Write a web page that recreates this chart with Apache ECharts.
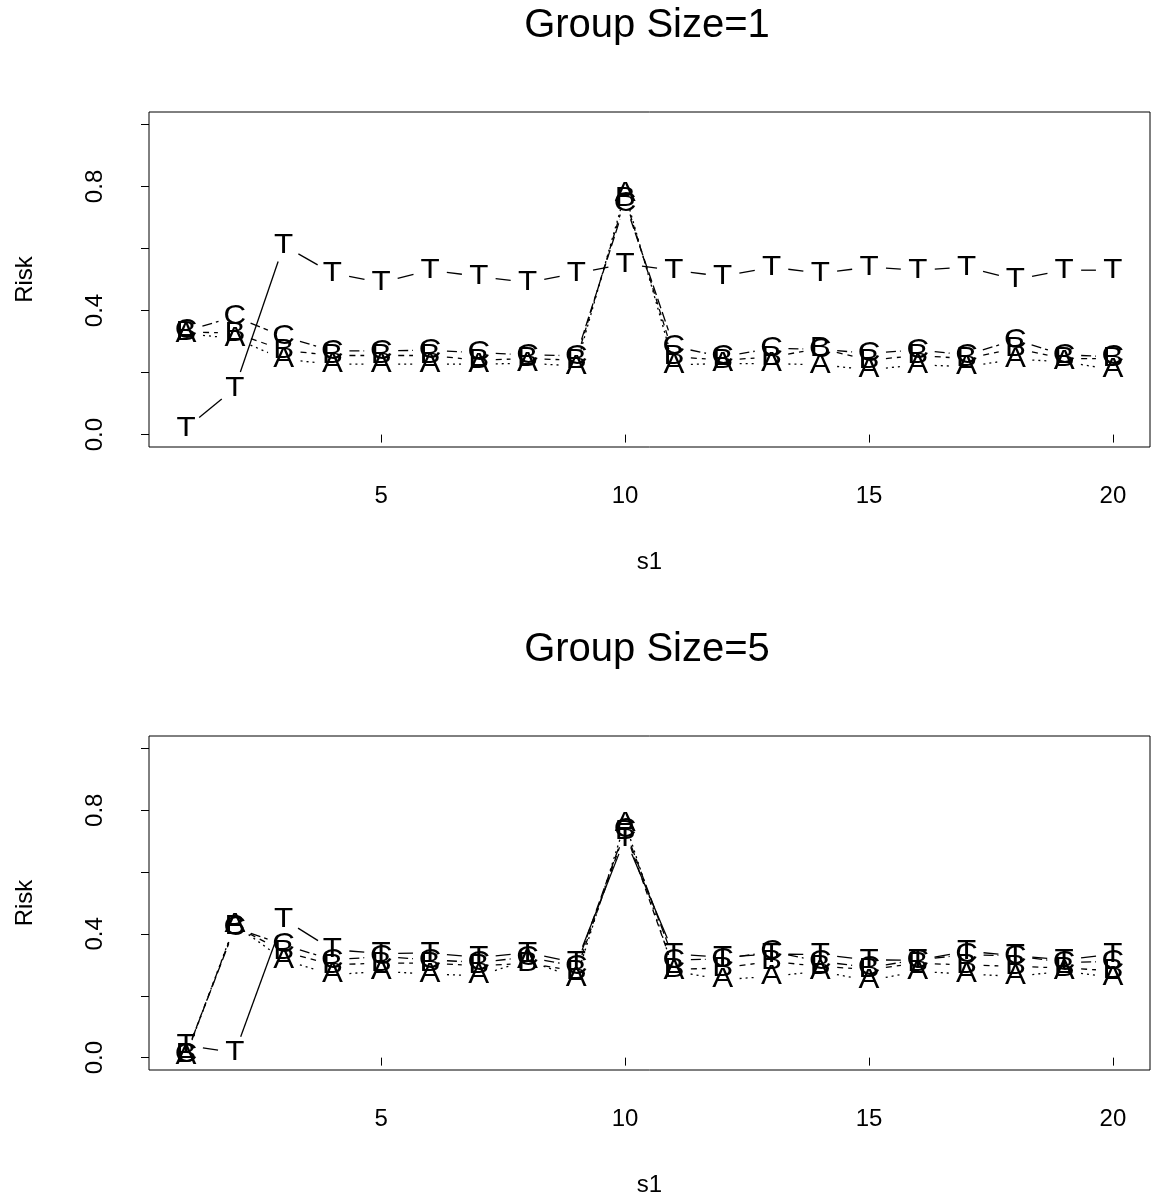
<!DOCTYPE html>
<html>
<head>
<meta charset="utf-8">
<script src="https://cdn.jsdelivr.net/npm/echarts@6/dist/echarts.min.js"></script>
<style>
html, body { margin: 0; padding: 0; background: #fff; }
#chart { width: 1153px; height: 1198px; }
</style>
</head>
<body>
<div id="chart"></div>
<script>
// ---- data ----
const s1 = [1, 2, 3, 4, 5, 6, 7, 8, 9, 10, 11, 12, 13, 14, 15, 16, 17, 18, 19, 20];

// Group Size = 1
const A1 = [0.325, 0.31, 0.243, 0.227, 0.227, 0.227, 0.227, 0.23, 0.221, 0.778, 0.225, 0.229, 0.229, 0.225, 0.209, 0.225, 0.219, 0.243, 0.235, 0.209];
const B1 = [0.33, 0.328, 0.272, 0.255, 0.255, 0.255, 0.24, 0.245, 0.24, 0.762, 0.251, 0.24, 0.25, 0.278, 0.24, 0.255, 0.245, 0.278, 0.245, 0.245];
const C1 = [0.335, 0.38, 0.316, 0.27, 0.27, 0.272, 0.264, 0.257, 0.254, 0.746, 0.284, 0.251, 0.278, 0.275, 0.262, 0.273, 0.257, 0.305, 0.257, 0.251];
const T1 = [0.02, 0.15, 0.61, 0.52, 0.49, 0.53, 0.51, 0.49, 0.52, 0.55, 0.53, 0.51, 0.54, 0.52, 0.54, 0.53, 0.54, 0.50, 0.53, 0.53];

// Group Size = 5
const A5 = [0.005, 0.43, 0.316, 0.268, 0.279, 0.27, 0.265, 0.315, 0.257, 0.759, 0.28, 0.252, 0.263, 0.279, 0.249, 0.279, 0.27, 0.263, 0.279, 0.26];
const B5 = [0.01, 0.425, 0.343, 0.30, 0.306, 0.305, 0.297, 0.305, 0.28, 0.732, 0.285, 0.29, 0.311, 0.295, 0.285, 0.305, 0.30, 0.295, 0.29, 0.281];
const C5 = [0.01, 0.42, 0.365, 0.316, 0.327, 0.316, 0.308, 0.325, 0.295, 0.737, 0.316, 0.319, 0.343, 0.311, 0.292, 0.316, 0.333, 0.329, 0.308, 0.311];
const T5 = [0.04, 0.016, 0.448, 0.349, 0.337, 0.338, 0.324, 0.339, 0.307, 0.71, 0.335, 0.325, 0.335, 0.333, 0.316, 0.315, 0.344, 0.33, 0.316, 0.335];

const titles = ['Group Size=1', 'Group Size=5'];
const xTicks = [5, 10, 15, 20];
const yTicks = [0, 0.2, 0.4, 0.6, 0.8, 1.0];
const yLabels = [0, 0.4, 0.8];

// ---- style ----
const FONT = '"Liberation Sans", Arial, Helvetica, sans-serif';
const GAP = 17;
const LETTER_SIZE = 28;
const LETTER_STRETCH = 1.12;
const dashes = { A: [2, 4], B: [6, 5], C: [10, 4], T: null };

const panels = [
  { top: 112, series: { A: A1, B: B1, C: C1, T: T1 } },
  { top: 736, series: { A: A5, B: B5, C: C5, T: T5 } }
];

function makeSeries(letter, vals, gi) {
  const data = s1.map((x, i) => i < s1.length - 1
    ? [x, vals[i], s1[i + 1], vals[i + 1]]
    : [x, vals[i], x, vals[i]]);
  return {
    type: 'custom',
    name: letter + gi,
    xAxisIndex: gi,
    yAxisIndex: gi,
    clip: false,
    silent: true,
    encode: { x: [0, 2], y: [1, 3] },
    data: data,
    renderItem: function (params, api) {
      const p = api.coord([api.value(0), api.value(1)]);
      const q = api.coord([api.value(2), api.value(3)]);
      const children = [];
      const last = params.dataIndex === s1.length - 1;
      if (!last) {
        const dx = q[0] - p[0], dy = q[1] - p[1];
        const L = Math.hypot(dx, dy);
        if (L > 2 * GAP + 1) {
          const ux = dx / L, uy = dy / L;
          children.push({
            type: 'line',
            shape: { x1: p[0] + ux * GAP, y1: p[1] + uy * GAP, x2: q[0] - ux * GAP, y2: q[1] - uy * GAP },
            style: { stroke: '#000', lineWidth: 1.3, lineDash: dashes[letter], fill: null }
          });
        }
      }
      children.push({
        type: 'text',
        x: p[0], y: p[1],
        scaleX: LETTER_STRETCH, scaleY: 1,
        style: {
          text: letter, x: 0, y: 0,
          align: 'center', verticalAlign: 'middle',
          fontSize: LETTER_SIZE, fontFamily: FONT, fill: '#000'
        }
      });
      return { type: 'group', children: children };
    }
  };
}

const grid = [], xAxis = [], yAxis = [], series = [], title = [];
panels.forEach((pn, gi) => {
  grid.push({ left: 149, top: pn.top, width: 1001, height: 335, show: true, borderColor: '#000', borderWidth: 1, backgroundColor: 'transparent' });
  title.push({
    text: titles[gi], left: 647, top: pn.top - 106, textAlign: 'center', padding: 0,
    textStyle: { fontSize: 40, fontWeight: 'normal', color: '#000', fontFamily: FONT }
  });
  xAxis.push({
    type: 'value', gridIndex: gi, min: 0.24, max: 20.76,
    name: 's1', nameLocation: 'middle', nameGap: 103,
    nameTextStyle: { fontSize: 24, color: '#000', fontFamily: FONT },
    axisLine: { show: false },
    splitLine: { show: false },
    axisTick: { show: true, customValues: xTicks, length: 8, lineStyle: { color: '#000', width: 1 } },
    axisLabel: { show: true, customValues: xTicks, margin: 37, fontSize: 24, color: '#000', fontFamily: FONT }
  });
  yAxis.push({
    type: 'value', gridIndex: gi, min: -0.04, max: 1.04,
    name: 'Risk', nameLocation: 'middle', nameGap: 112, nameRotate: 90,
    nameTextStyle: { fontSize: 24, color: '#000', fontFamily: FONT },
    axisLine: { show: false },
    splitLine: { show: false },
    axisTick: { show: true, customValues: yTicks, length: 8, lineStyle: { color: '#000', width: 1 } },
    axisLabel: {
      show: true, customValues: yLabels, rotate: 90, margin: 42, fontSize: 24, color: '#000', fontFamily: FONT,
      formatter: v => Number(v).toFixed(1)
    }
  });
  ['A', 'B', 'C', 'T'].forEach(l => series.push(makeSeries(l, pn.series[l], gi)));
});

const chart = echarts.init(document.getElementById('chart'), null, { renderer: 'canvas' });
chart.setOption({
  animation: false,
  backgroundColor: '#fff',
  title: title,
  grid: grid,
  xAxis: xAxis,
  yAxis: yAxis,
  series: series
});
</script>
</body>
</html>
